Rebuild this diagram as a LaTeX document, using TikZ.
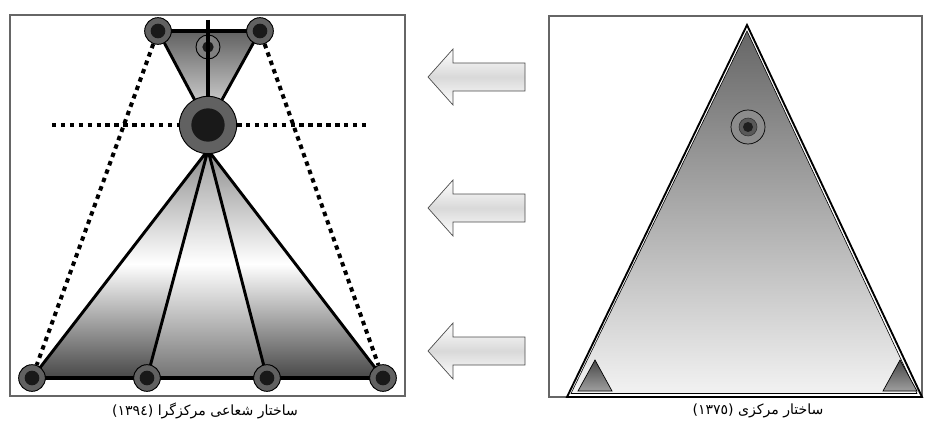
\documentclass[tikz,border=0pt]{standalone}
\usepackage{fontspec}
\newfontfamily\arabicfont[Script=Arabic]{DejaVu Sans}
\TeXXeTstate=1
\usetikzlibrary{positioning, calc}

\pgfdeclarelayer{background}
\pgfsetlayers{background,main}

\tikzset{
  panel/.style={draw=black!60, line width=1pt},
  spoke/.style 2 args={circle, draw=black, line width=0.8pt, fill=black!62,
    minimum size=#1, inner sep=0pt,
    path picture={\fill[black!90] (path picture bounding box.center) circle (#2);}},
  rod/.style={line width=2.5pt, line cap=round},
  dots/.style={line width=3.4pt, dash pattern=on 3.8pt off 3.8pt},
  fanfill/.style={top color=black!45, bottom color=black!72, middle color=white},
  wedge/.style={draw=black!70, line width=0.6pt, top color=white, bottom color=white, middle color=black!15},
  caption/.style={font=\arabicfont\fontsize{12}{14}\selectfont, inner sep=0pt}
}

\begin{document}
\begin{tikzpicture}[x=0.03cm, y=-0.03cm]
  \useasboundingbox (0,0) rectangle (934,422);

  % left panel: radial structure
  \draw[panel] (10,15) rectangle (405,396);
  \node[spoke={0.8cm}{0.22cm}] (tl) at (158,31) {};
  \node[spoke={0.8cm}{0.22cm}] (tr) at (260,31) {};
  \node[spoke={0.72cm}{0.17cm}, fill=black!50] (tm) at (208,47) {};
  \node[spoke={1.72cm}{0.5cm}] (hub) at (208,125) {};
  \node[spoke={0.8cm}{0.22cm}] (b1) at (32,378) {};
  \node[spoke={0.8cm}{0.22cm}] (b2) at (147,378) {};
  \node[spoke={0.8cm}{0.22cm}] (b3) at (267,378) {};
  \node[spoke={0.8cm}{0.22cm}] (b4) at (383,378) {};
  \coordinate (fan) at (208,150);
  \coordinate (bartop) at (208,20);
  \coordinate (dl) at (52,125);
  \coordinate (dr) at (368,125);

  \begin{pgfonlayer}{background}
    \shade[top color=black!62, bottom color=black!8]
      (tl.center) -- (tr.center) -- (hub.center) -- cycle;
    \shade[fanfill] (fan) -- (b1.center) -- (b2.center) -- cycle;
    \shade[top color=black!38, bottom color=black!55, middle color=white]
      (fan) -- (b2.center) -- (b3.center) -- cycle;
    \shade[fanfill] (fan) -- (b3.center) -- (b4.center) -- cycle;
    \draw[rod, line width=3pt] (tl.center) -- (tr.center);
    \draw[rod] (tl) -- (hub.center) (tr) -- (hub.center);
    \draw[rod] (fan) -- (b1.center) (fan) -- (b2.center)
      (fan) -- (b3.center) (fan) -- (b4.center);
    \draw[rod, line width=3pt] (b1.center) -- (b4.center);
  \end{pgfonlayer}
  \draw[rod, line width=3.4pt, line cap=butt] (bartop) -- (hub.north);
  \draw[dots] (dl) -- (hub) (hub) -- (dr);
  \draw[dots] (tl) -- (b1) (tr) -- (b4);

  % arrows between the panels
  \foreach \y in {77,208,351}
    \draw[wedge] (428,\y) -- (453,{\y-28}) -- (453,{\y-14}) -- (525,{\y-14})
      -- (525,{\y+14}) -- (453,{\y+14}) -- (453,{\y+28}) -- cycle;

  % right panel: central structure
  \draw[panel] (549,16) rectangle (922,397);
  \draw[line width=1.6pt, line join=miter] (747,25) -- (567,397) -- (922,397) -- cycle;
  \shade[top color=black!60, bottom color=black!5, draw=black, line width=0.5pt]
    (747,31) -- (571,393.5) -- (917,393.5) -- cycle;
  \node[circle, draw=black, line width=0.6pt, fill=black!45, minimum size=1.02cm,
    inner sep=0pt, path picture={
      \filldraw[fill=black!65, draw=black!80, line width=0.5pt]
        (path picture bounding box.center) circle (0.27cm);
      \fill[black!88] (path picture bounding box.center) circle (0.15cm);}]
    (core) at (748,127) {};
  \foreach \cx in {595,900}
    \shade[top color=black!72, bottom color=black!38, draw=black, line width=0.6pt]
      (\cx,360) -- ({\cx-17},391) -- ({\cx+17},391) -- cycle;

  % captions
  \node[caption] (capL) at (205,411)
    {\beginR ساختار شعاعی مرکزگرا \beginL(١٣٩٤)\endL\endR};
  \node[caption] (capR) at (758,411)
    {\beginR ساختار مرکزی \beginL(١٣٧٥)\endL\endR};
\end{tikzpicture}
\end{document}
